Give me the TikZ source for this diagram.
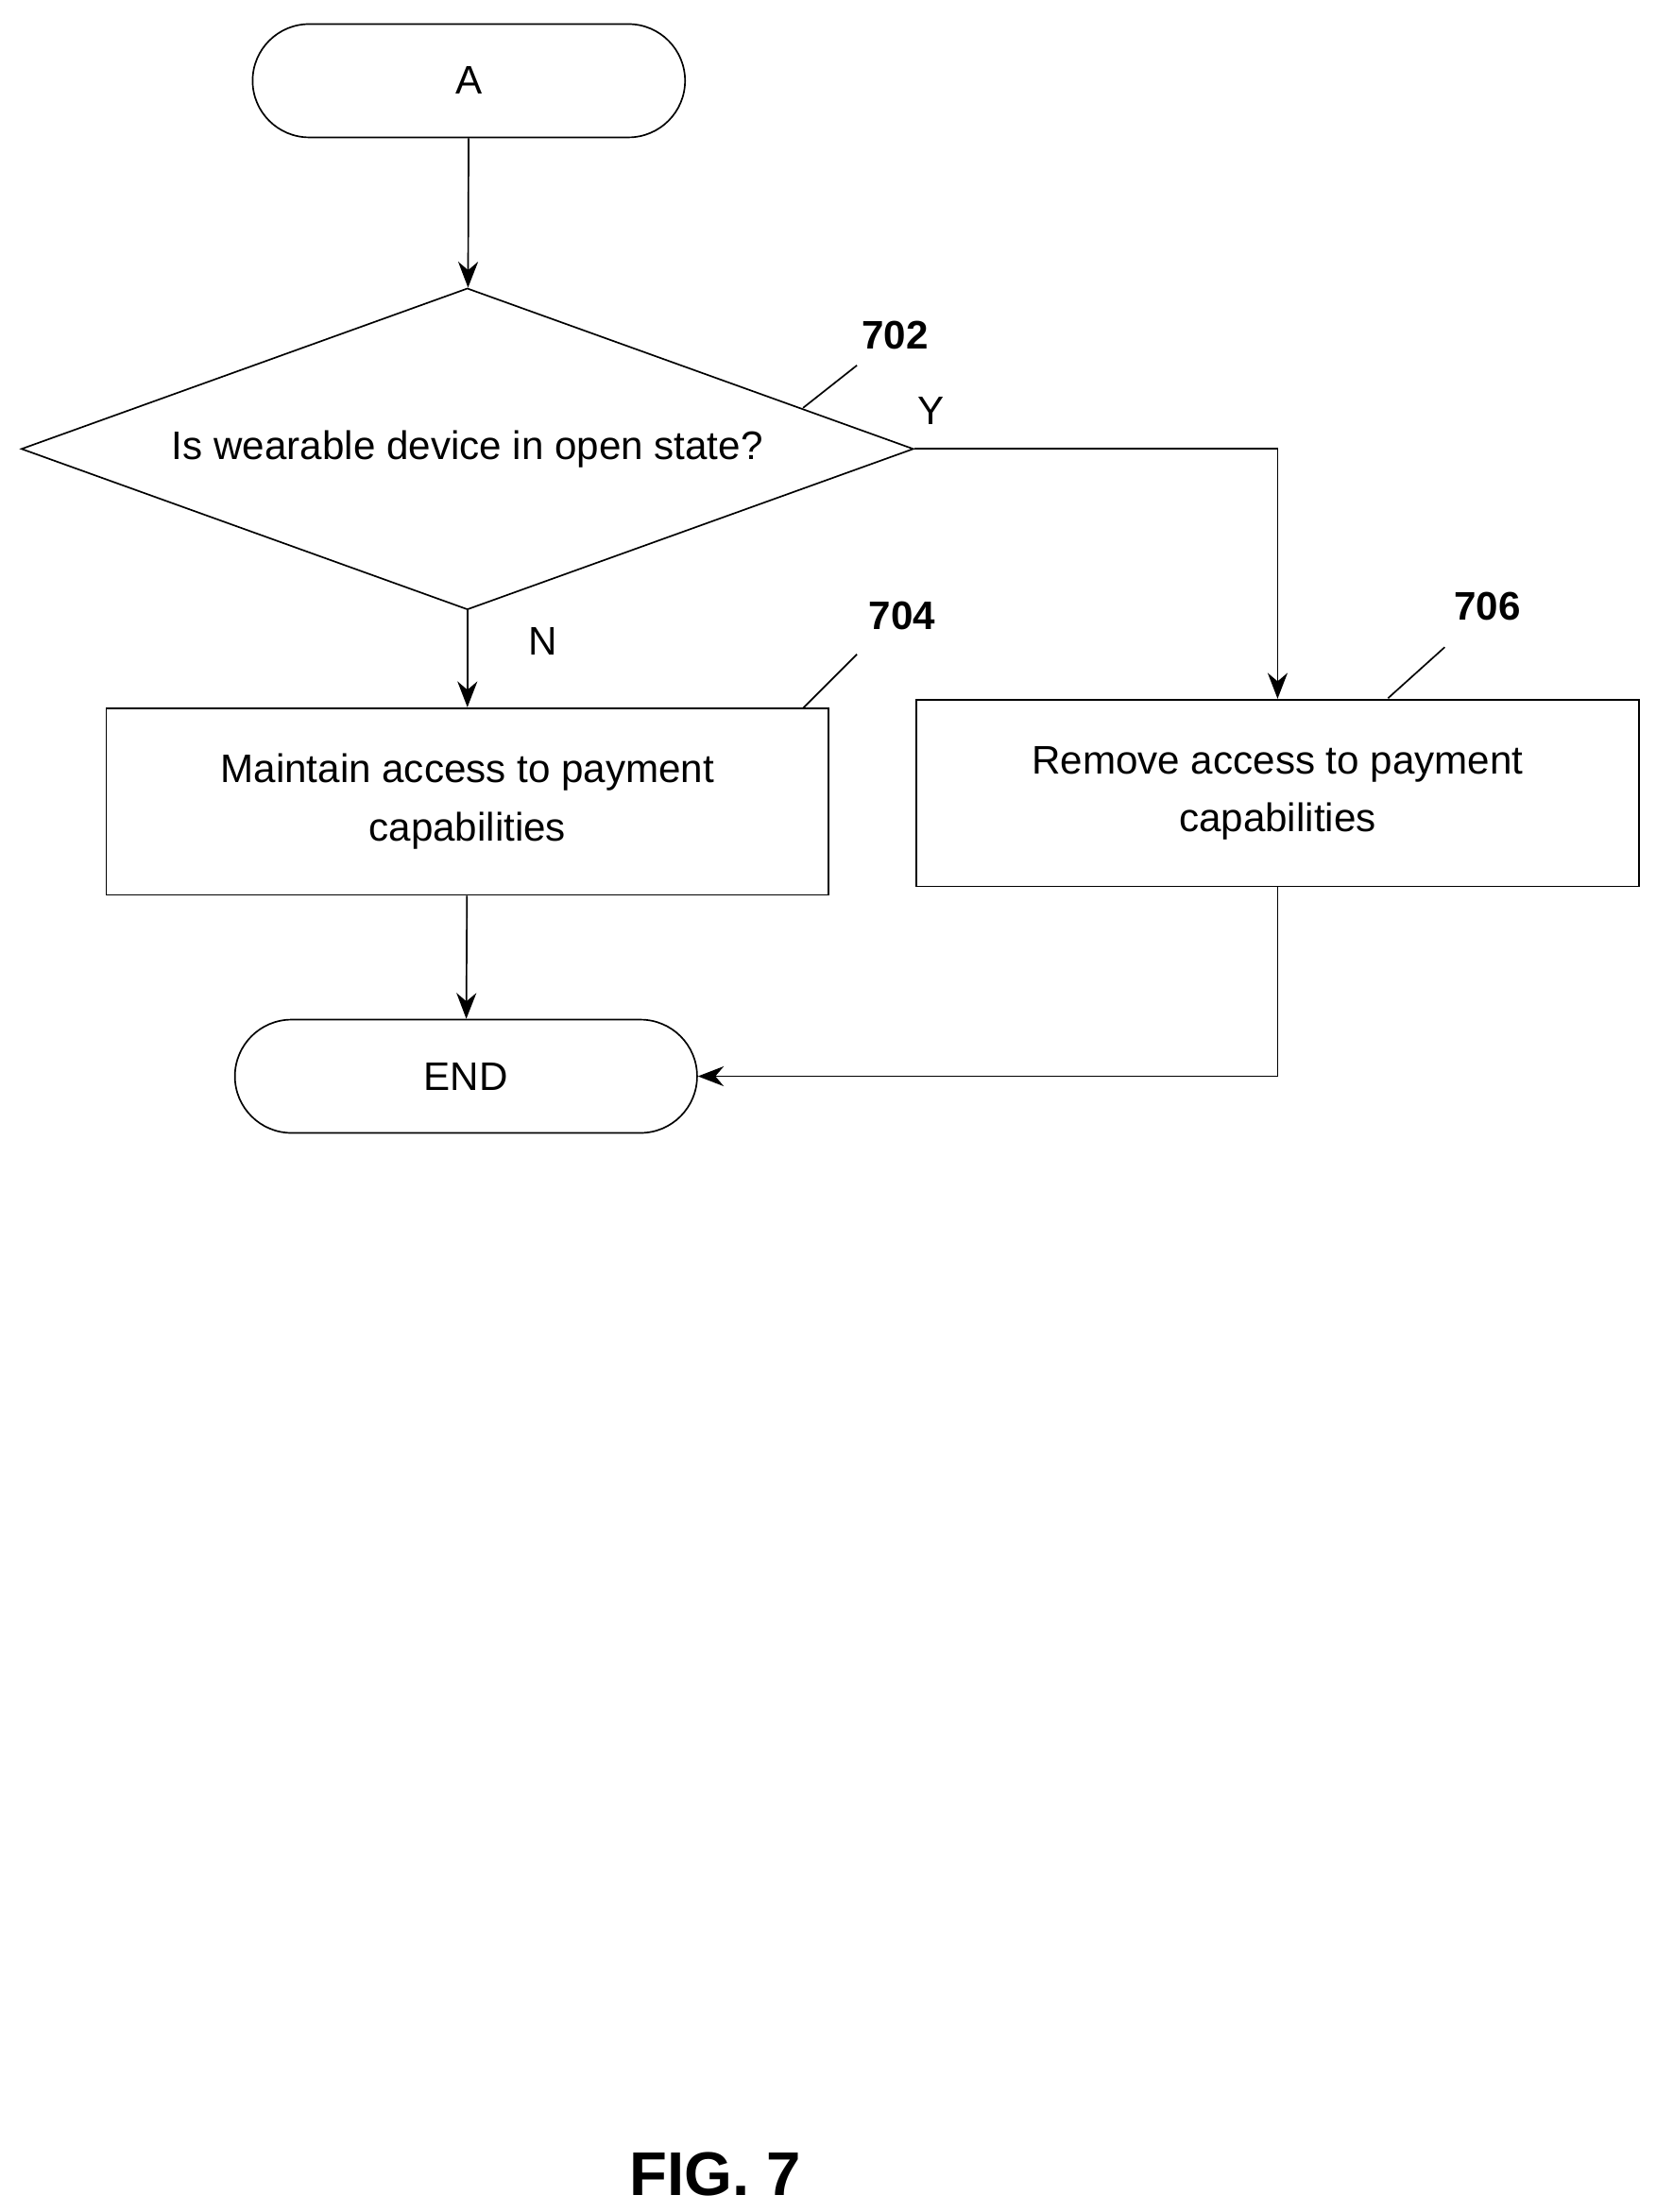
\documentclass[tikz,border=0pt]{standalone}
\usepackage{fontspec}
\setmainfont{Liberation Sans}
\usetikzlibrary{shapes.geometric,shapes.misc,arrows.meta}
\begin{document}
\begin{tikzpicture}[x=0.05cm,y=-0.05cm,
  box/.style={draw,line width=1.6pt,minimum width=510*0.05cm,minimum height=132*0.05cm,align=center,font=\fontsize{40}{58}\selectfont},
  term/.style={draw,line width=1.6pt,rounded rectangle,minimum width=310*0.05cm,minimum height=80*0.05cm,font=\fontsize{40}{48}\selectfont},
  lbl/.style={font=\fontsize{40}{48}\selectfont\bfseries},
  yn/.style={font=\fontsize{40}{48}\selectfont},
  arr/.style={line width=1.6pt,-{Stealth[length=26pt,width=20pt]}},
  ln/.style={line width=1.6pt}]
\useasboundingbox (0,0) rectangle (1169,1562);
\node[term] (A) at (331,57) {A};
\node[draw,line width=1.6pt,diamond,aspect=2.78,minimum width=630*0.05cm,minimum height=227*0.05cm,inner sep=0pt,font=\fontsize{40}{48}\selectfont] (d) at (330,317) {Is wearable device in open state?};
\node[box] (b704) at (330,566) {Maintain access to payment\\capabilities};
\node[box] (b706) at (902,560) {Remove access to payment\\capabilities};
\node[term,minimum width=331*0.05cm] (E) at (329,760) {END};
\node[lbl] (l702) at (632,237) {702};
\node[lbl] (l704) at (637,435) {704};
\node[lbl] (l706) at (1050,428) {706};
\node[yn] (Y) at (657,290) {Y};
\node[yn] (N) at (383,453) {N};
\node[font=\fontsize{62}{70}\selectfont\bfseries] (fig) at (505,1535) {FIG. 7};
\coordinate (c1) at (567,288); \coordinate (c2) at (605,258);
\coordinate (c3) at (567,500); \coordinate (c4) at (605,462);
\coordinate (c5) at (980,493); \coordinate (c6) at (1020,457);
\draw[ln] (c1) -- (c2); \draw[ln] (c3) -- (c4); \draw[ln] (c5) -- (c6);
\draw[arr] (A) -- (d);
\draw[arr] (d.south) -- (b704.north);
\draw[arr] (d.east) -| (b706.north);
\draw[arr] (b704) -- (E);
\draw[arr] (b706.south) |- (E.east);
\end{tikzpicture}
\end{document}
